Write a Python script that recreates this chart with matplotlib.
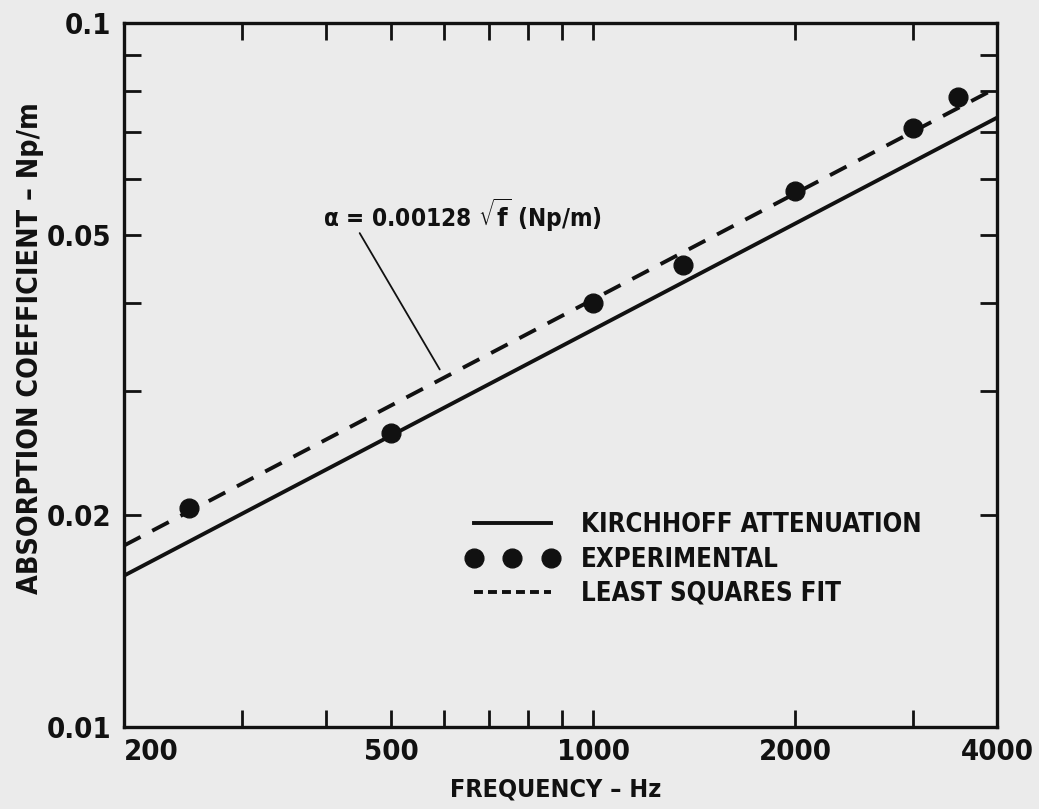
import numpy as np
import matplotlib
matplotlib.use("Agg")
import matplotlib.pyplot as plt
from matplotlib import font_manager
from matplotlib.lines import Line2D
from matplotlib.ticker import FixedLocator, NullFormatter, FixedFormatter

# ---------------- data ----------------
freq_exp = [250, 500, 1000, 1360, 2000, 3000, 3500]          # Hz
alpha_exp = [0.0205, 0.0262, 0.0400, 0.0453, 0.0577, 0.0709, 0.0785]  # Np/m
freq_line = [200, 4000]
kirchhoff_coef = 0.00116
lsq_coef = 0.00128
xtick_vals = [200, 500, 1000, 2000, 4000]
xtick_labels = ["200", "500", "1000", "2000", "4000"]
xminor_vals = [300, 400, 600, 700, 800, 900, 3000]
ytick_vals = [0.01, 0.02, 0.05, 0.1]
ytick_labels = ["0.01", "0.02", "0.05", "0.1"]
yminor_vals = [0.03, 0.04, 0.06, 0.07, 0.08, 0.09]
legend_labels = ["KIRCHHOFF ATTENUATION", "EXPERIMENTAL", "LEAST SQUARES FIT"]

# ---------------- font ----------------
def pick_font():
    names = [f.fname for f in font_manager.fontManager.ttflist]
    for key in ["DejaVuSansCondensed-Bold.ttf", "LiberationSansNarrow-Bold.ttf"]:
        for fn in names:
            if fn.endswith(key):
                return font_manager.FontProperties(fname=fn)
    return font_manager.FontProperties(family="DejaVu Sans", weight="bold")

FP = pick_font()
def fp(size):
    p = FP.copy()
    p.set_size(size)
    return p

plt.rcParams["mathtext.fontset"] = "dejavusans"

INK = "#111111"
BG = "#ebebeb"

fig = plt.figure(figsize=(10.39, 8.09), dpi=100, facecolor=BG)
W, H = 1039, 809
L, R, T, B = 124, 997, 23, 727
ax = fig.add_axes([L / W, 1 - B / H, (R - L) / W, (B - T) / H])
ax.set_facecolor(BG)
ax.set_xscale("log")
ax.set_yscale("log")
ax.set_xlim(200, 4000)
ax.set_ylim(0.01, 0.1)

fl = np.geomspace(freq_line[0], freq_line[1], 200)
ax.plot(fl, kirchhoff_coef * np.sqrt(fl), color=INK, lw=2.8, solid_capstyle="butt")
ax.plot(fl, lsq_coef * np.sqrt(fl), color=INK, lw=2.8, dashes=(4.8, 3.4))
ax.plot(freq_exp, alpha_exp, "o", color=INK, ms=13.5, ls="none")

# spines / ticks
for s in ax.spines.values():
    s.set_linewidth(2.4)
    s.set_color(INK)
ax.xaxis.set_major_locator(FixedLocator(xtick_vals))
ax.xaxis.set_major_formatter(FixedFormatter(xtick_labels))
ax.xaxis.set_minor_locator(FixedLocator(xminor_vals))
ax.xaxis.set_minor_formatter(NullFormatter())
ax.yaxis.set_major_locator(FixedLocator(ytick_vals))
ax.yaxis.set_major_formatter(FixedFormatter(ytick_labels))
ax.yaxis.set_minor_locator(FixedLocator(yminor_vals))
ax.yaxis.set_minor_formatter(NullFormatter())
ax.tick_params(which="both", direction="in", length=12, width=2.0, color=INK,
               top=True, right=True)
ax.tick_params(axis="x", which="major", pad=8)
ax.tick_params(axis="y", which="major", pad=9)
for lab in ax.get_xticklabels() + ax.get_yticklabels():
    lab.set_fontproperties(fp(21))
    lab.set_color(INK)
xl = ax.get_xticklabels()
xl[0].set_horizontalalignment("left")

# axis titles
fig.text(556 / W, 1 - 790 / H, "FREQUENCY \u2013 Hz", ha="center", va="center",
         fontproperties=fp(18), color=INK)
fig.text(30 / W, 1 - 348 / H, "ABSORPTION COEFFICIENT \u2013 Np/m", ha="center",
         va="center", rotation=90, fontproperties=fp(20.5), color=INK)

# annotation
ax.text(396, 0.0534, "\u03b1 = 0.00128 $\\sqrt{\\mathbf{f}}$ (Np/m)", ha="left", va="center",
        fontproperties=fp(17.5), color=INK)
ax.annotate("", xy=(591, 0.0322), xytext=(449, 0.0503),
            arrowprops=dict(arrowstyle="-", lw=1.3, color=INK, shrinkA=0, shrinkB=0))

# legend
handles = [
    Line2D([], [], color=INK, lw=2.8),
    Line2D([], [], color=INK, marker="o", ms=13.5, ls="none"),
    Line2D([], [], color=INK, lw=2.8, dashes=(2.3, 1.3)),
]
leg = ax.legend(handles, legend_labels, loc="upper left", bbox_to_anchor=(0.392, 0.305),
                frameon=False, numpoints=3, handlelength=3.6, handletextpad=0.85,
                labelspacing=0.32, borderaxespad=0, borderpad=0, prop=fp(18.5))
for t in leg.get_texts():
    t.set_color(INK)

fig.savefig("out.png", dpi=100, facecolor=BG)
